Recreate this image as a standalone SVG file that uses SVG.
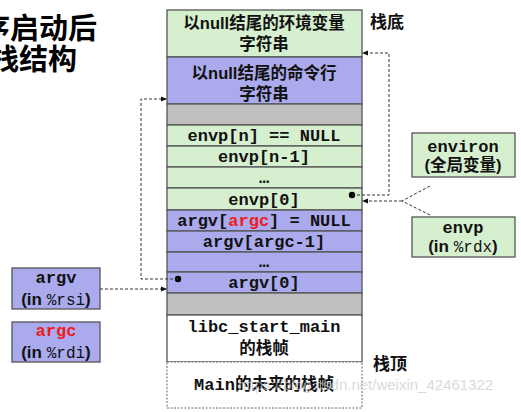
<svg xmlns="http://www.w3.org/2000/svg" width="521" height="412" viewBox="0 0 521 412">
<style>
.g{fill:#d6f0cf;stroke:#555;stroke-width:1.3}
.p{fill:#aaaaec;stroke:#555;stroke-width:1.3}
.x{fill:#c0c0c0;stroke:#555;stroke-width:1.3}
.w{fill:#fff;stroke:#555;stroke-width:1.3}
.cn{font-family:"Liberation Sans","Noto Sans CJK SC",sans-serif;font-weight:bold;font-size:16.5px;fill:#111;text-anchor:middle}
.m{font-family:"Liberation Mono",monospace;font-weight:bold;font-size:17px;fill:#111;text-anchor:middle}
.mr{font-family:"Liberation Mono",monospace;font-size:16px;fill:#111}
.s{font-family:"Liberation Sans","Noto Sans CJK SC",sans-serif;font-weight:bold;font-size:17px;fill:#111}
.red{fill:#ee1c1c}
.d{fill:none;stroke:#333;stroke-width:1;stroke-dasharray:3,2}
.t{font-family:"Liberation Sans","Noto Sans CJK SC",sans-serif;font-weight:bold;font-size:29px;fill:#000;text-anchor:end}
</style>
<defs>
<marker id="ah" markerWidth="6" markerHeight="6" refX="5" refY="3" orient="auto" markerUnits="userSpaceOnUse">
<path d="M0,0.5 L6,3 L0,5.5 Z" fill="#111"/>
</marker>
</defs>
<g id="title">
<text class="t" x="97" y="39">程序启动后</text>
<text class="t" x="77" y="70">的栈结构</text>
</g>
<g id="r-envstr"><rect class="g" x="167" y="10" width="195" height="47"/><text class="cn" x="264" y="29">以null结尾的环境变量</text><text class="cn" x="264" y="50">字符串</text></g>
<g id="r-argstr"><rect class="p" x="167" y="57" width="195" height="47"/><text class="cn" x="264" y="79">以null结尾的命令行</text><text class="cn" x="264" y="100">字符串</text></g>
<g id="r-gap1"><rect class="x" x="167" y="104" width="195" height="21"/></g>
<g id="r-envpn"><rect class="g" x="167" y="125" width="195" height="21"/><text class="m" x="264" y="141">envp[n] == NULL</text></g>
<g id="r-envpn1"><rect class="g" x="167" y="146" width="195" height="21"/><text class="m" x="264" y="162">envp[n-1]</text></g>
<g id="r-envpdots"><rect class="g" x="167" y="167" width="195" height="21"/><text class="m" x="264" y="183">…</text></g>
<g id="r-envp0"><rect class="g" x="167" y="188" width="195" height="22"/><text class="m" x="264" y="205">envp[0]</text></g>
<g id="r-argvargc"><rect class="p" x="167" y="210" width="195" height="21"/><text class="m" x="264" y="226">argv[<tspan class="red">argc</tspan>] = NULL</text></g>
<g id="r-argvargc1"><rect class="p" x="167" y="231" width="195" height="21"/><text class="m" x="264" y="247">argv[argc-1]</text></g>
<g id="r-argvdots"><rect class="p" x="167" y="252" width="195" height="20"/><text class="m" x="264" y="267">…</text></g>
<g id="r-argv0"><rect class="p" x="167" y="272" width="195" height="21"/><text class="m" x="264" y="288">argv[0]</text></g>
<g id="r-gap2"><rect class="x" x="167" y="293" width="195" height="22"/></g>
<g id="r-libc"><rect class="w" x="167" y="315" width="195" height="47"/><text class="m" x="264" y="332">libc_start_main</text><text class="cn" x="264" y="354">的栈帧</text></g>
<g id="r-main"><rect x="167" y="362" width="195" height="46" fill="#fff" stroke="#666" stroke-width="1" stroke-dasharray="2,1.5"/><text class="m" x="264" y="390">Main<tspan font-family="Liberation Sans,Noto Sans CJK SC,sans-serif" font-size="16.5">的未来的栈帧</tspan></text></g>
<g id="lbl-bottom"><text class="s" x="370" y="28" font-size="18">栈底</text></g>
<g id="lbl-top"><text class="s" x="373" y="370" font-size="18">栈顶</text></g>
<g id="n-environ"><rect class="g" x="412" y="133" width="103" height="44"/><text class="m" x="463" y="152" font-size="15">environ</text><text class="cn" x="463" y="171" font-size="17.5">(全局变量)</text></g>
<g id="n-envp"><rect class="g" x="412" y="217" width="103" height="40"/><text class="m" x="463" y="233" font-size="15">envp</text><text class="s" x="463" y="252" text-anchor="middle">(in <tspan class="mr" font-weight="normal" font-size="16">%rdx</tspan>)</text></g>
<g id="n-argv"><rect class="p" x="12" y="268" width="88" height="41"/><text class="m" x="56" y="283" font-size="15">argv</text><text class="s" x="56" y="305" text-anchor="middle">(in <tspan class="mr" font-weight="normal" font-size="16">%rsi</tspan>)</text></g>
<g id="n-argc"><rect class="p" x="12" y="322" width="88" height="40"/><text class="m red" x="56" y="336" font-size="15">argc</text><text class="s" x="56" y="358" text-anchor="middle">(in <tspan class="mr" font-weight="normal" font-size="16">%rdi</tspan>)</text></g>
<g id="connectors">
<circle cx="352" cy="195" r="3.2" fill="#000"/>
<circle cx="178" cy="279" r="3.2" fill="#000"/>
<path class="d" d="M352,195 H389 V53 H363" marker-end="url(#ah)"/>
<path class="d" d="M178,279 H141 V99 H166" marker-end="url(#ah)"/>
<path class="d" d="M100,289 H166" marker-end="url(#ah)"/>
<path class="d" d="M430,186 L402,201 L430,215"/>
<path class="d" d="M402,201 H363" marker-end="url(#ah)"/>
</g>
<text x="238" y="390" font-family="Liberation Sans,sans-serif" font-size="15" fill="#c8c8c8" fill-opacity="0.7">https://blog.csdn.net/weixin_42461322</text>
</svg>
